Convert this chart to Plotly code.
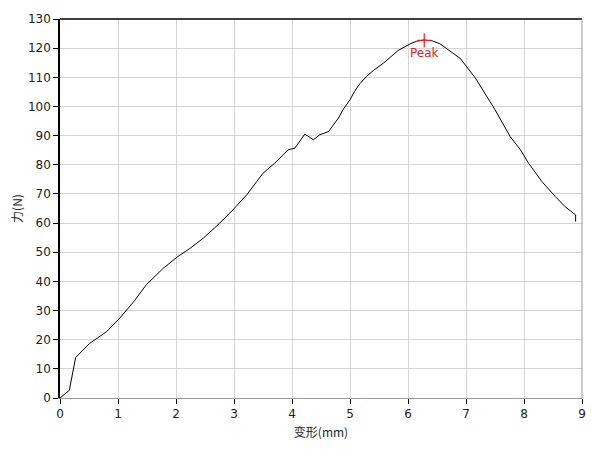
import plotly.graph_objects as go

deformation_mm = [0.0, 0.16, 0.27, 0.51, 0.80, 1.03, 1.17, 1.29, 1.49, 1.78, 2.03, 2.24, 2.47,
                  2.75, 2.98, 3.22, 3.39, 3.50, 3.70, 3.93, 4.05, 4.22, 4.37, 4.48, 4.63,
                  4.80, 4.88, 5.00, 5.08, 5.17, 5.28, 5.40, 5.58, 5.83, 6.05, 6.15, 6.28,
                  6.42, 6.55, 6.90, 7.16, 7.27, 7.50, 7.76, 7.94, 8.08, 8.31, 8.54, 8.71,
                  8.89, 8.89]
force_n = [0.0, 2.6, 13.9, 18.7, 22.7, 27.4, 30.7, 33.5, 38.9, 44.5, 48.5, 51.3, 54.8,
           59.9, 64.5, 69.7, 74.2, 77.1, 80.5, 85.1, 85.7, 90.5, 88.6, 90.3, 91.4,
           96.0, 98.9, 102.3, 105.2, 107.8, 110.2, 112.3, 114.9, 119.2, 121.6, 122.4, 122.8,
           122.5, 121.5, 116.5, 109.8, 106.3, 98.9, 89.7, 85.1, 80.5, 74.2, 69.1, 65.6,
           62.8, 60.5]

peak_x = [6.28]
peak_y = [122.7]
peak_label = "Peak"

x_ticks = list(range(0, 10))
y_ticks = list(range(0, 131, 10))

fig = go.Figure()
fig.add_trace(go.Scatter(x=deformation_mm, y=force_n, mode="lines",
                         line=dict(color="black", width=1), showlegend=False,
                         hoverinfo="skip"))
fig.add_trace(go.Scatter(x=peak_x, y=peak_y, mode="markers+text",
                         marker=dict(symbol="cross-thin", size=10,
                                     line=dict(color="#e0202a", width=1.2)),
                         text=[peak_label], textposition="bottom center",
                         textfont=dict(color="#e0202a", size=12, family="DejaVu Sans"),
                         showlegend=False))

tickfont = dict(family="DejaVu Sans", size=12, color="#222222")
fig.update_layout(
    width=605, height=449,
    margin=dict(l=52, r=31, t=11, b=59),
    paper_bgcolor="white", plot_bgcolor="white",
    font=dict(family="DejaVu Sans", size=12, color="#222222"),
    xaxis=dict(range=[0, 9], tickvals=x_ticks, ticks="outside", ticklen=5,
               tickcolor="black", tickwidth=1, showgrid=True, gridcolor="#d4d4d4",
               gridwidth=1, showline=True, linecolor="#9a9a9a", linewidth=1,
               zeroline=False, tickfont=tickfont, automargin=False,
               title=dict(text="变形(mm)", standoff=8,
                          font=dict(family="Noto Sans CJK SC", size=12, color="#222222"))),
    yaxis=dict(range=[0, 130], tickvals=y_ticks, ticks="outside", ticklen=5,
               tickcolor="black", tickwidth=1, showgrid=True, gridcolor="#d4d4d4",
               gridwidth=1, showline=True, linecolor="black", linewidth=1.5,
               zeroline=False, tickfont=tickfont, automargin=False,
               title=dict(text="力(N)", standoff=8,
                          font=dict(family="Noto Sans CJK SC", size=12, color="#222222"))),
    shapes=[
        dict(type="line", xref="paper", yref="paper", x0=0, x1=1, y0=1, y1=1,
             line=dict(color="black", width=1.5)),
        dict(type="line", xref="paper", yref="paper", x0=1, x1=1, y0=0, y1=1,
             line=dict(color="#9a9a9a", width=1)),
    ],
)

fig.write_html("out.html")
